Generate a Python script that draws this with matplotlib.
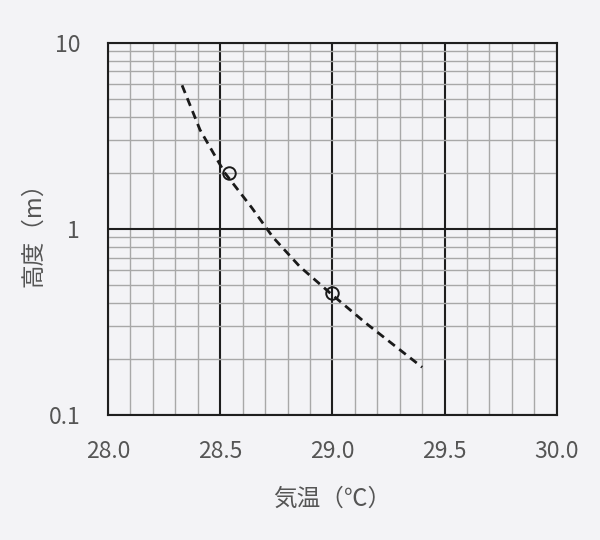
import numpy as np
import matplotlib.pyplot as plt
from matplotlib.ticker import FixedLocator, LogLocator, NullFormatter

plt.rcParams['font.family'] = ['Noto Sans CJK JP', 'DejaVu Sans']

# curve
temp = [28.33, 28.41, 28.52, 28.64, 28.735, 28.855, 29.0, 29.15, 29.40]
height = [5.9, 3.4, 2.0, 1.3, 0.9, 0.625, 0.44, 0.31, 0.18]

# measured points (circles)
pt_temp = [28.54, 29.0]
pt_height = [2.0, 0.45]

xticks = [28.0, 28.5, 29.0, 29.5, 30.0]
xlabels = ['28.0', '28.5', '29.0', '29.5', '30.0']
yticks = [0.1, 1, 10]
ylabels = ['0.1', '1', '10']

bg = '#f3f3f6'
txt = '#555555'

fig = plt.figure(figsize=(6, 5.4), dpi=100, facecolor=bg)
ax = fig.add_axes([0.18, 0.232, 0.748, 0.689])
ax.set_facecolor(bg)
ax.set_yscale('log')
ax.set_xlim(28.0, 30.0)
ax.set_ylim(0.1, 10)

ax.xaxis.set_major_locator(FixedLocator(xticks))
ax.xaxis.set_minor_locator(FixedLocator(np.arange(28.0, 30.01, 0.1)))
ax.set_xticklabels(xlabels)
ax.yaxis.set_major_locator(FixedLocator(yticks))
ax.yaxis.set_minor_locator(LogLocator(base=10, subs=range(2, 10)))
ax.yaxis.set_minor_formatter(NullFormatter())
ax.set_yticklabels(ylabels)

ax.grid(which='minor', color='#a8a8a8', linewidth=1.0)
ax.grid(which='major', color='#1e1e1e', linewidth=1.5)
ax.set_axisbelow(True)
for s in ax.spines.values():
    s.set_color('#1e1e1e')
    s.set_linewidth(1.5)

ax.tick_params(which='both', length=0, labelsize=16.5, colors=txt)
ax.tick_params(axis='x', pad=18)
ax.tick_params(axis='y', pad=20)

ax.plot(temp, height, color='#1a1a1a', linestyle=(0, (3, 2)), linewidth=2)
ax.plot(pt_temp, pt_height, linestyle='none', marker='o', markersize=9,
        markerfacecolor='none', markeredgecolor='#1a1a1a', markeredgewidth=1.4)

ax.set_xlabel('気温（℃）', fontsize=17, color=txt, labelpad=18)
ax.set_ylabel('高度（m）', fontsize=17, color=txt, labelpad=2)

plt.savefig('out.png', dpi=100, facecolor=bg)
